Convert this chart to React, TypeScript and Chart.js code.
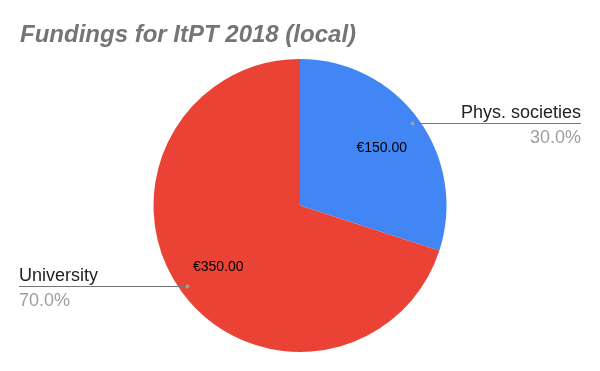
import React, { useEffect, useRef } from "react";
import { Chart, registerables } from "chart.js";

Chart.register(...registerables);

const title = "Fundings for ItPT 2018 (local)";
const categories = ["Phys. societies", "University"];
const values = [150, 350];
const colors = ["#4285F4", "#EA4335"];

const labelPlugin = {
  id: "googleLabels",
  afterDraw(chart: any) {
    const ctx = chart.ctx as CanvasRenderingContext2D;
    const meta = chart.getDatasetMeta(0);
    const data = chart.data.datasets[0].data as number[];
    const total = data.reduce((a, b) => a + b, 0);
    ctx.save();
    // title
    ctx.font = "italic bold 24px 'Liberation Sans', Arial, sans-serif";
    ctx.fillStyle = "#757575";
    ctx.textAlign = "left";
    ctx.textBaseline = "alphabetic";
    ctx.fillText(title, 20, 42);

    meta.data.forEach((arc: any, i: number) => {
      const { x, y, startAngle, endAngle, outerRadius } = arc.getProps(
        ["x", "y", "startAngle", "endAngle", "outerRadius"],
        true
      );
      const mid = (startAngle + endAngle) / 2;
      const cos = Math.cos(mid);
      const sin = Math.sin(mid);
      // value label
      ctx.font = "14px 'Liberation Sans', Arial, sans-serif";
      ctx.fillStyle = "#000000";
      ctx.textAlign = "center";
      ctx.textBaseline = "middle";
      const v = data[i];
      ctx.fillText(
        "€" + v.toFixed(2),
        x + cos * outerRadius * 0.69,
        y + sin * outerRadius * 0.69 + 2
      );

      // leader
      const dx = x + cos * outerRadius * 0.95;
      const dy = Math.round(y + sin * outerRadius * 0.95) - 0.5;
      const right = cos >= 0;
      const endX = right ? 581 : 19;
      ctx.strokeStyle = "#757575";
      ctx.lineWidth = 1;
      ctx.beginPath();
      ctx.moveTo(dx, dy);
      ctx.lineTo(endX, dy);
      ctx.stroke();
      ctx.fillStyle = "#9e9e9e";
      ctx.beginPath();
      ctx.arc(dx, dy, 2, 0, Math.PI * 2);
      ctx.fill();

      ctx.textAlign = right ? "right" : "left";
      ctx.textBaseline = "alphabetic";
      ctx.font = "18px 'Liberation Sans', Arial, sans-serif";
      ctx.fillStyle = "#222222";
      ctx.fillText(String(chart.data.labels[i]), endX, dy - 6);
      ctx.fillStyle = "#9e9e9e";
      ctx.fillText(((v / total) * 100).toFixed(1) + "%", endX, dy + 19);
    });
    ctx.restore();
  },
};

export default function App() {
  const ref = useRef<HTMLCanvasElement>(null);
  useEffect(() => {
    document.body.style.margin = "0";
    const chart = new Chart(ref.current!, {
      type: "pie",
      data: {
        labels: categories,
        datasets: [
          {
            data: values,
            backgroundColor: colors,
            borderWidth: 0,
          },
        ],
      },
      options: {
        responsive: false,
        animation: false,
        layout: { padding: { top: 59, bottom: 19, left: 0, right: 0 } },
        plugins: {
          legend: { display: false },
          tooltip: { enabled: false },
          title: { display: false },
        },
      },
      plugins: [labelPlugin],
    });
    return () => chart.destroy();
  }, []);
  return (
    <div style={{ width: 600, height: 371, background: "#fff" }}>
      <canvas ref={ref} width={600} height={371} />
    </div>
  );
}
